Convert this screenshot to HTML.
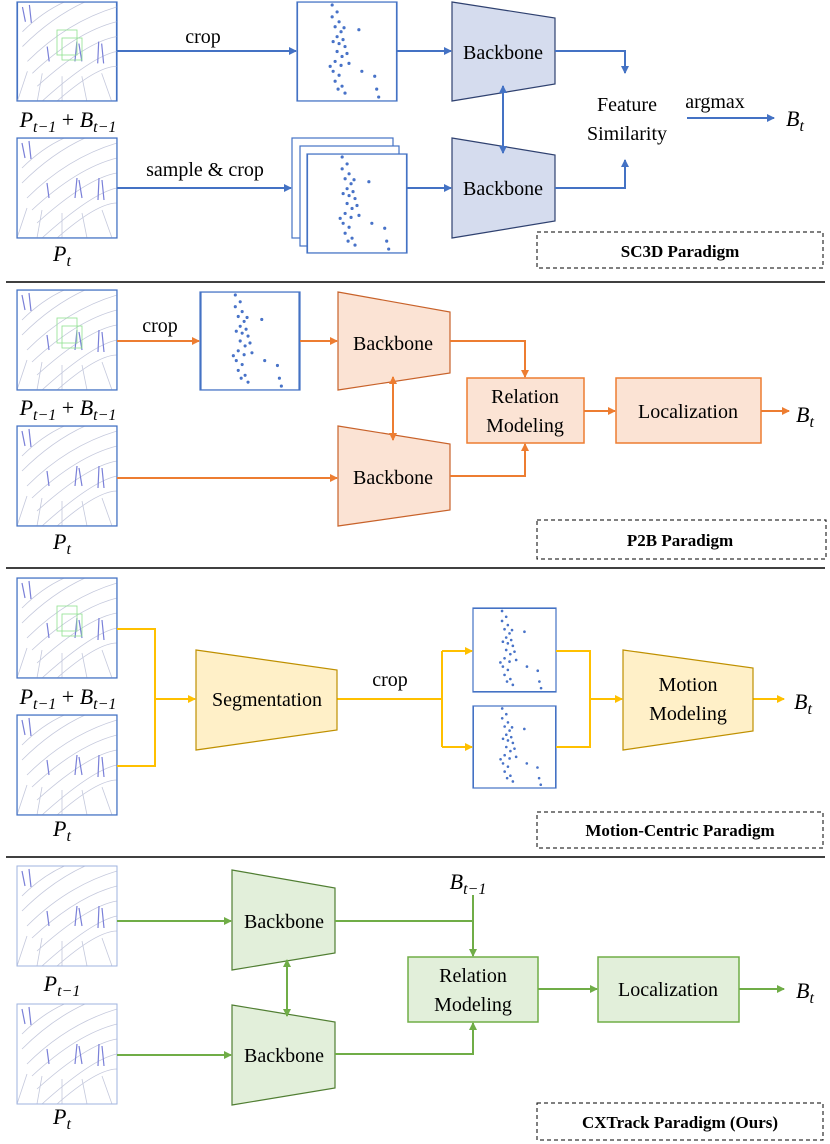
<!DOCTYPE html>
<html><head><meta charset="utf-8"><style>body{margin:0;background:#fff}svg{display:block}</style></head><body>
<svg width="830" height="1144" viewBox="0 0 830 1144" xmlns="http://www.w3.org/2000/svg" font-family="Liberation Serif, serif">
<defs>
<symbol id="pc" viewBox="0 0 100 100">
<rect width="100" height="100" fill="#fff"/>
<g stroke="#c4c8dc" stroke-width="0.8" fill="none">
<path d="M5 30 Q30 5 60 -5"/><path d="M5 45 Q40 10 80 -5"/><path d="M10 60 Q50 20 100 5"/><path d="M15 72 Q60 30 100 20"/><path d="M20 85 Q70 40 100 35"/><path d="M25 100 Q75 55 100 50"/><path d="M40 100 Q80 65 100 65"/>
<path d="M10 70 L0 100"/><path d="M25 72 L20 100"/><path d="M45 75 L45 100"/><path d="M65 75 L70 100"/><path d="M85 72 L95 100"/>
</g>
<g stroke="#7a80d8" stroke-width="1.2" fill="none"><path d="M5 5 l3 15 M12 3 l2 18 M30 45 l2 15 M60 40 l-2 20 M62 42 l3 18 M82 40 l-1 22 M85 42 l2 20"/></g>
</symbol>
<symbol id="pts" viewBox="0 0 100 100">
<rect width="100" height="100" fill="#fff"/>
<g fill="#6a6af0">
<circle cx="35" cy="3" r="1"/><circle cx="40" cy="10" r="1"/><circle cx="35" cy="15" r="1"/><circle cx="42" cy="20" r="1"/><circle cx="38" cy="25" r="1"/><circle cx="44" cy="30" r="1"/><circle cx="40" cy="35" r="1"/><circle cx="46" cy="38" r="1"/><circle cx="42" cy="42" r="1"/><circle cx="48" cy="45" r="1"/><circle cx="40" cy="50" r="1"/><circle cx="45" cy="55" r="1"/><circle cx="38" cy="60" r="1"/><circle cx="44" cy="64" r="1"/><circle cx="36" cy="70" r="1"/><circle cx="42" cy="74" r="1"/><circle cx="38" cy="80" r="1"/><circle cx="45" cy="85" r="1"/><circle cx="48" cy="92" r="1"/><circle cx="65" cy="70" r="1"/><circle cx="78" cy="75" r="1"/><circle cx="80" cy="88" r="1"/><circle cx="62" cy="28" r="1"/><circle cx="50" cy="52" r="1"/><circle cx="33" cy="65" r="1"/><circle cx="47" cy="26" r="1"/><circle cx="41" cy="88" r="1"/><circle cx="52" cy="62" r="1"/><circle cx="36" cy="40" r="1"/><circle cx="82" cy="96" r="1"/>
</g>
</symbol>
<marker id="ab" markerWidth="8" markerHeight="8" refX="7" refY="4" orient="auto-start-reverse" markerUnits="userSpaceOnUse"><path d="M0 0 L8 4 L0 8z" fill="#4472C4"/></marker>
<marker id="ao" markerWidth="8" markerHeight="8" refX="7" refY="4" orient="auto-start-reverse" markerUnits="userSpaceOnUse"><path d="M0 0 L8 4 L0 8z" fill="#ED7D31"/></marker>
<marker id="ay" markerWidth="8" markerHeight="8" refX="7" refY="4" orient="auto-start-reverse" markerUnits="userSpaceOnUse"><path d="M0 0 L8 4 L0 8z" fill="#FFC000"/></marker>
<marker id="ag" markerWidth="8" markerHeight="8" refX="7" refY="4" orient="auto-start-reverse" markerUnits="userSpaceOnUse"><path d="M0 0 L8 4 L0 8z" fill="#70AD47"/></marker>
</defs>

<g stroke="#000" stroke-width="1.5"><line x1="6" y1="282" x2="825" y2="282"/><line x1="6" y1="568" x2="825" y2="568"/><line x1="6" y1="857" x2="825" y2="857"/></g>

<!-- Section 1 -->
<g stroke="#4472C4" stroke-width="1.2" fill="none">
<use href="#pc" x="17" y="2" width="100" height="99"/><rect x="17" y="2" width="100" height="99"/>
<use href="#pc" x="17" y="138" width="100" height="100"/><rect x="17" y="138" width="100" height="100"/>
<rect x="57" y="30" width="20" height="25" stroke="#8fe28f" stroke-width="0.8"/><rect x="62" y="38" width="20" height="22" stroke="#8fe28f" stroke-width="0.8"/>
<use href="#pts" x="297" y="2" width="100" height="99"/><rect x="297" y="2" width="100" height="99"/>
<rect x="292" y="138" width="101" height="100" fill="#fff"/><rect x="300" y="146" width="99" height="100" fill="#fff"/>
<use href="#pts" x="307" y="154" width="100" height="99"/><rect x="307" y="154" width="100" height="99"/>
</g>
<g fill="#D5DCEE" stroke="#2F4170" stroke-width="1.2">
<polygon points="452,2 555,18 555,84 452,101"/><polygon points="452,138 555,155 555,221 452,238"/>
</g>
<g stroke="#4472C4" stroke-width="2" fill="none">
<line x1="117" y1="51" x2="296" y2="51" marker-end="url(#ab)"/>
<line x1="117" y1="188" x2="291" y2="188" marker-end="url(#ab)"/>
<line x1="397" y1="51" x2="451" y2="51" marker-end="url(#ab)"/>
<line x1="407" y1="188" x2="451" y2="188" marker-end="url(#ab)"/>
<polyline points="555,51 625,51 625,73" marker-end="url(#ab)"/>
<polyline points="555,188 625,188 625,160" marker-end="url(#ab)"/>
<line x1="503" y1="86" x2="503" y2="153" marker-start="url(#ab)" marker-end="url(#ab)"/>
<line x1="687" y1="118" x2="774" y2="118" marker-end="url(#ab)"/>
</g>
<g font-size="20" text-anchor="middle" fill="#000">
<text x="503" y="59">Backbone</text><text x="503" y="195">Backbone</text>
<text x="627" y="111">Feature</text><text x="627" y="140">Similarity</text>
<text x="715" y="108">argmax</text>
<text x="203" y="43">crop</text><text x="205" y="176">sample &amp; crop</text>
<text x="680" y="257" font-weight="bold" font-size="17">SC3D Paradigm</text>
</g>
<rect x="537" y="232" width="286" height="36" fill="none" stroke="#000" stroke-dasharray="4,3"/>

<!-- Section 2 -->
<g stroke="#4472C4" stroke-width="1.2" fill="none">
<use href="#pc" x="17" y="290" width="100" height="100"/><rect x="17" y="290" width="100" height="100"/>
<use href="#pc" x="17" y="426" width="100" height="100"/><rect x="17" y="426" width="100" height="100"/>
<rect x="57" y="318" width="20" height="25" stroke="#8fe28f" stroke-width="0.8"/><rect x="62" y="326" width="20" height="22" stroke="#8fe28f" stroke-width="0.8"/>
<use href="#pts" x="200" y="292" width="100" height="98"/><rect x="200" y="292" width="100" height="98"/>
</g>
<g fill="#FBE3D4" stroke="#C8622A" stroke-width="1.2">
<polygon points="338,292 450,312 450,373 338,390"/><polygon points="338,426 450,444 450,510 338,526"/>
</g>
<g fill="#FBE3D4" stroke="#ED7D31" stroke-width="1.5">
<rect x="467" y="378" width="117" height="65"/><rect x="616" y="378" width="145" height="65"/>
</g>
<g stroke="#ED7D31" stroke-width="2" fill="none">
<line x1="117" y1="341" x2="199" y2="341" marker-end="url(#ao)"/>
<line x1="300" y1="341" x2="337" y2="341" marker-end="url(#ao)"/>
<line x1="117" y1="478" x2="337" y2="478" marker-end="url(#ao)"/>
<polyline points="450,341 525,341 525,377" marker-end="url(#ao)"/>
<polyline points="450,476 525,476 525,444" marker-end="url(#ao)"/>
<line x1="393" y1="377" x2="393" y2="440" marker-start="url(#ao)" marker-end="url(#ao)"/>
<line x1="584" y1="411" x2="615" y2="411" marker-end="url(#ao)"/>
<line x1="761" y1="411" x2="789" y2="411" marker-end="url(#ao)"/>
</g>
<g font-size="20" text-anchor="middle" fill="#000">
<text x="393" y="350">Backbone</text><text x="393" y="484">Backbone</text>
<text x="525" y="403">Relation</text><text x="525" y="432">Modeling</text>
<text x="688" y="418">Localization</text>
<text x="160" y="332">crop</text>
<text x="680" y="546" font-weight="bold" font-size="17">P2B Paradigm</text>
</g>
<rect x="537" y="520" width="289" height="39" fill="none" stroke="#000" stroke-dasharray="4,3"/>

<!-- Section 3 -->
<g stroke="#4472C4" stroke-width="1.2" fill="none">
<use href="#pc" x="17" y="578" width="100" height="100"/><rect x="17" y="578" width="100" height="100"/>
<use href="#pc" x="17" y="715" width="100" height="100"/><rect x="17" y="715" width="100" height="100"/>
<rect x="57" y="606" width="20" height="25" stroke="#8fe28f" stroke-width="0.8"/><rect x="62" y="614" width="20" height="22" stroke="#8fe28f" stroke-width="0.8"/>
<use href="#pts" x="473" y="608" width="83" height="84"/><rect x="473" y="608" width="83" height="84"/>
<use href="#pts" x="473" y="706" width="83" height="82"/><rect x="473" y="706" width="83" height="82"/>
</g>
<g stroke="#FFC000" stroke-width="2" fill="none">
<polyline points="117,629 155,629 155,766 117,766"/>
<line x1="155" y1="699" x2="195" y2="699" marker-end="url(#ay)"/>
<line x1="337" y1="699" x2="442" y2="699"/>
<line x1="442" y1="651" x2="442" y2="747"/>
<line x1="442" y1="651" x2="472" y2="651" marker-end="url(#ay)"/>
<line x1="442" y1="747" x2="472" y2="747" marker-end="url(#ay)"/>
<polyline points="556,651 590,651 590,747 556,747"/>
<line x1="590" y1="699" x2="622" y2="699" marker-end="url(#ay)"/>
<line x1="753" y1="699" x2="784" y2="699" marker-end="url(#ay)"/>
</g>
<g fill="#FFF0C8" stroke="#BF9000" stroke-width="1.2">
<polygon points="196,650 337,670 337,730 196,750"/><polygon points="623,650 753,668 753,731 623,750"/>
</g>
<g font-size="20" text-anchor="middle" fill="#000">
<text x="267" y="706">Segmentation</text>
<text x="688" y="691">Motion</text><text x="688" y="720">Modeling</text>
<text x="390" y="686">crop</text>
<text x="680" y="836" font-weight="bold" font-size="17">Motion-Centric  Paradigm</text>
</g>
<rect x="537" y="812" width="286" height="36" fill="none" stroke="#000" stroke-dasharray="4,3"/>

<!-- Section 4 -->
<g stroke="#9fb3df" stroke-width="1" fill="none">
<use href="#pc" x="17" y="866" width="100" height="100"/><rect x="17" y="866" width="100" height="100"/>
<use href="#pc" x="17" y="1004" width="100" height="100"/><rect x="17" y="1004" width="100" height="100"/>
</g>
<g fill="#E2EFDA" stroke="#507E32" stroke-width="1.2">
<polygon points="232,870 335,888 335,953 232,970"/><polygon points="232,1005 335,1022 335,1088 232,1105"/>
</g>
<g fill="#E2EFDA" stroke="#70AD47" stroke-width="1.5">
<rect x="408" y="957" width="130" height="65"/><rect x="598" y="957" width="141" height="65"/>
</g>
<g stroke="#70AD47" stroke-width="2" fill="none">
<line x1="117" y1="921" x2="231" y2="921" marker-end="url(#ag)"/>
<line x1="117" y1="1055" x2="231" y2="1055" marker-end="url(#ag)"/>
<line x1="287" y1="960" x2="287" y2="1016" marker-start="url(#ag)" marker-end="url(#ag)"/>
<line x1="473" y1="895" x2="473" y2="956" marker-end="url(#ag)"/>
<line x1="335" y1="921" x2="473" y2="921"/>
<polyline points="335,1054 473,1054 473,1023" marker-end="url(#ag)"/>
<line x1="538" y1="989" x2="597" y2="989" marker-end="url(#ag)"/>
<line x1="739" y1="989" x2="784" y2="989" marker-end="url(#ag)"/>
</g>
<g font-size="20" text-anchor="middle" fill="#000">
<text x="284" y="928">Backbone</text><text x="284" y="1062">Backbone</text>
<text x="473" y="982">Relation</text><text x="473" y="1011">Modeling</text>
<text x="668" y="996">Localization</text>
<text x="680" y="1128" font-weight="bold" font-size="17">CXTrack Paradigm (Ours)</text>
</g>
<rect x="537" y="1103" width="286" height="37" fill="none" stroke="#000" stroke-dasharray="4,3"/>

<g font-size="22" font-style="italic" fill="#000" text-anchor="middle">
<text x="68" y="127">P<tspan font-size="16" dy="5">t−1</tspan><tspan dy="-5" font-style="normal"> + </tspan>B<tspan font-size="16" dy="5">t−1</tspan></text>
<text x="62" y="261">P<tspan font-size="16" dy="5">t</tspan></text>
<text x="68" y="415">P<tspan font-size="16" dy="5">t−1</tspan><tspan dy="-5" font-style="normal"> + </tspan>B<tspan font-size="16" dy="5">t−1</tspan></text>
<text x="62" y="549">P<tspan font-size="16" dy="5">t</tspan></text>
<text x="68" y="704">P<tspan font-size="16" dy="5">t−1</tspan><tspan dy="-5" font-style="normal"> + </tspan>B<tspan font-size="16" dy="5">t−1</tspan></text>
<text x="62" y="836">P<tspan font-size="16" dy="5">t</tspan></text>
<text x="62" y="991">P<tspan font-size="16" dy="5">t−1</tspan></text>
<text x="62" y="1124">P<tspan font-size="16" dy="5">t</tspan></text>
<text x="468" y="889">B<tspan font-size="16" dy="5">t−1</tspan></text>
<text x="795" y="126">B<tspan font-size="16" dy="5">t</tspan></text>
<text x="805" y="422">B<tspan font-size="16" dy="5">t</tspan></text>
<text x="803" y="709">B<tspan font-size="16" dy="5">t</tspan></text>
<text x="805" y="998">B<tspan font-size="16" dy="5">t</tspan></text>
</g>
</svg>
</body></html>
